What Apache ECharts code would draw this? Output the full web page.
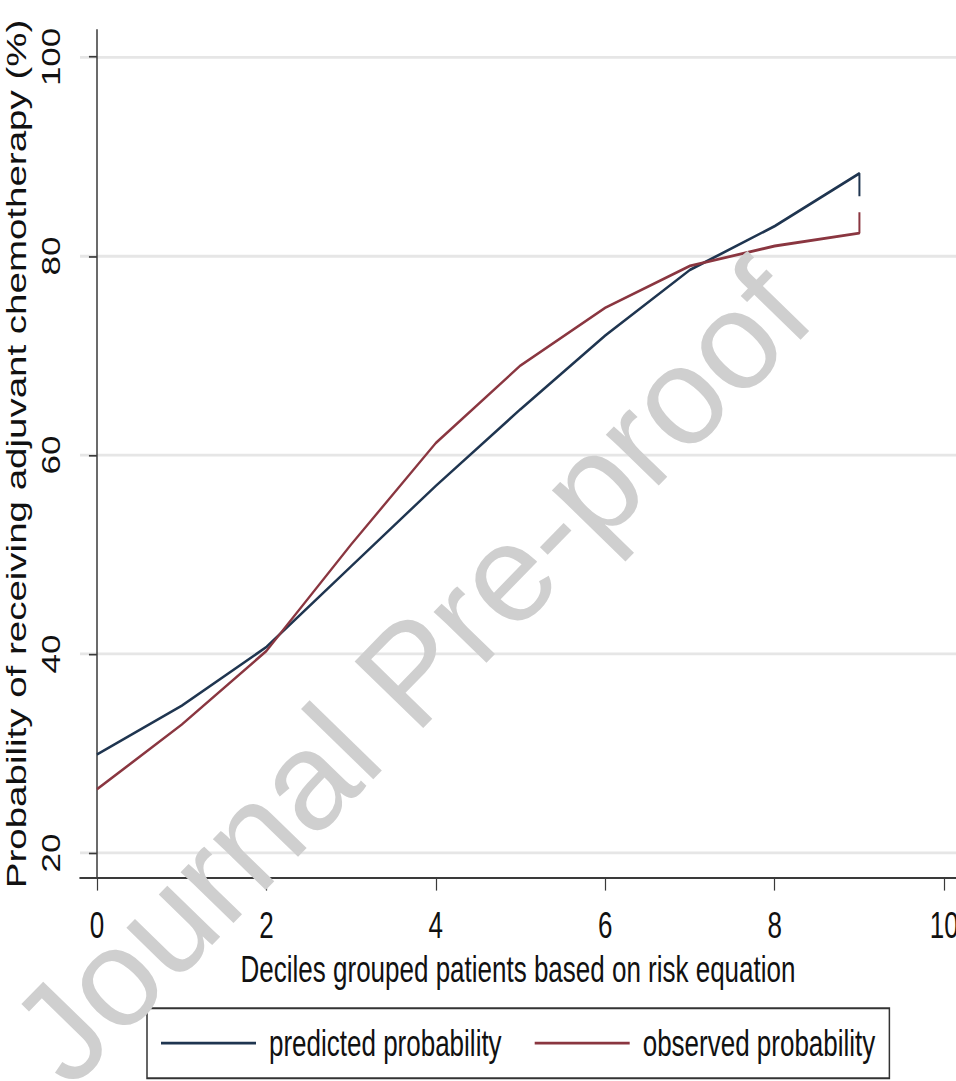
<!DOCTYPE html>
<html>
<head>
<meta charset="utf-8">
<script src="https://cdn.jsdelivr.net/npm/echarts@6/dist/echarts.min.js"></script>
<style>
html,body{margin:0;padding:0;background:#fff;}
#wrap{width:956px;height:1081px;overflow:hidden;position:relative;background:#fff;}
#chart{width:956px;height:772px;transform:scaleY(1.4003);transform-origin:0 0;}
#mark{position:absolute;left:0;top:0;width:956px;height:1081px;pointer-events:none;}
</style>
</head>
<body>
<div id="wrap"><div id="chart"></div><div id="mark"></div></div>
<script>
// ---- data ----
var deciles = [0, 1, 2, 3, 4, 5, 6, 7, 8, 9, 9];
var predicted = [29.9, 34.8, 40.7, 48.8, 56.9, 64.6, 72.0, 78.6, 83.0, 88.3, 86.0];
var observed = [26.4, 32.9, 40.3, 51.0, 61.2, 69.0, 74.8, 79.0, 81.0, 82.3, 84.4];
var xTicks = [0, 2, 4, 6, 8, 10];
var yTicks = [20, 40, 60, 80, 100];
var seriesNames = ['predicted probability', 'observed probability'];
var xTitle = 'Deciles grouped patients based on risk equation';
var yTitle = 'Probability of receiving adjuvant chemotherapy (%)';
var watermark = 'Journal Pre-proof';

function pairs(xs, ys) { return xs.map(function (x, i) { return [x, ys[i]]; }); }

var FONT = '"Liberation Sans", Arial, sans-serif';
var chart = echarts.init(document.getElementById('chart'), null, { renderer: 'svg' });
chart.setOption({
  backgroundColor: '#ffffff',
  animation: false,
  grid: { left: 80, right: 0, top: 21.4, bottom: 145, containLabel: false, outerBoundsMode: 'none' },
  xAxis: {
    type: 'value', min: -0.2, max: 10.14,
    axisLine: { show: true, lineStyle: { color: '#3a3a3a', width: 1.5 } },
    axisTick: { show: true, customValues: xTicks, length: 9, lineStyle: { color: '#3a3a3a', width: 1.2 } },
    axisLabel: { customValues: xTicks, margin: 21, fontSize: 26, fontFamily: FONT, color: '#111' },
    splitLine: { show: false },
    name: xTitle, nameLocation: 'middle', nameGap: 46,
    nameTextStyle: { fontSize: 26, fontFamily: FONT, color: '#111' }
  },
  yAxis: {
    type: 'value', min: 17.49, max: 102.71,
    axisLine: { show: true, lineStyle: { color: '#3a3a3a', width: 1.5 } },
    axisTick: { show: true, customValues: yTicks, length: 8, lineStyle: { color: '#3a3a3a', width: 1.2 } },
    axisLabel: { customValues: yTicks, rotate: 90, margin: 17, fontSize: 25, fontFamily: FONT, color: '#111' },
    splitLine: { show: true, lineStyle: { color: '#e6e6e6', width: 2 } },
    name: yTitle, nameLocation: 'middle', nameGap: 40, nameRotate: 90,
    nameTextStyle: { fontSize: 27.5, fontFamily: FONT, color: '#111' }
  },
  legend: {
    left: 147, top: 720, orient: 'horizontal',
    icon: 'rect', itemWidth: 95, itemHeight: 2, itemGap: 33,
    padding: [12, 14], borderColor: '#333', borderWidth: 1.5,
    textStyle: { fontSize: 26, fontFamily: FONT, color: '#111', padding: [0, 0, 0, 8] },
    data: seriesNames
  },
  series: [
    { name: seriesNames[0], type: 'line', data: pairs(deciles, predicted), showSymbol: false, symbol: 'none',
      lineStyle: { color: '#1f3550', width: 2 }, itemStyle: { color: '#1f3550' } },
    { name: seriesNames[1], type: 'line', data: pairs(deciles, observed), showSymbol: false, symbol: 'none',
      lineStyle: { color: '#8a3640', width: 2 }, itemStyle: { color: '#8a3640' } }
  ]
});

// watermark drawn unstretched, on top of the page
var mark = echarts.init(document.getElementById('mark'), null, { renderer: 'svg' });
mark.setOption({
  animation: false,
  graphic: [{
    type: 'text', x: 410, y: 672, rotation: 0.80, silent: true,
    style: { text: watermark, fontSize: 139, fontFamily: FONT, fill: '#cfcfcf', align: 'center', verticalAlign: 'middle' }
  }]
});
</script>
</body>
</html>
